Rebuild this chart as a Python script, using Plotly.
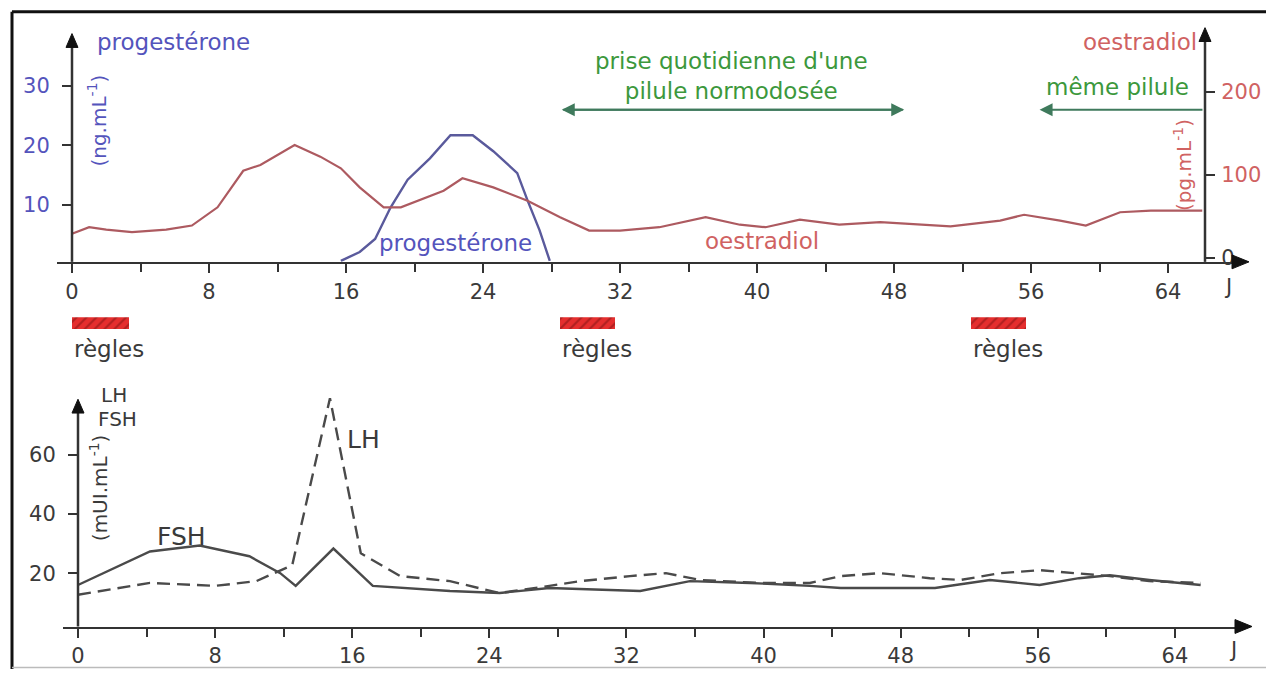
import plotly.graph_objects as go

W, H = 1266, 677

# ---------------- data ----------------
jours_oe = [0, 1, 2, 3.5, 5.5, 7, 8.5, 10, 11, 13, 14.5, 15.7, 16.8, 18.2, 19.2,
            21.7, 22.8, 24.6, 26.6, 28.5, 30.2, 32, 34.3, 37, 39, 40.5, 42.5,
            44.8, 47.2, 49.5, 51.3, 54.2, 55.6, 57.7, 59.2, 61.2, 63, 66]
oestradiol = [29, 37, 34, 31, 34, 39, 61, 105, 112, 136, 122, 108, 85, 61, 61,
              81, 96, 85, 69, 49, 33, 33, 37, 49, 40, 37, 46,
              40, 43, 40, 38, 45, 52, 45, 39, 55, 57, 57]

jours_pg = [15.7, 16.8, 17.7, 18.6, 19.6, 20.9, 22.1, 23.4, 24.6, 26.0, 26.6, 27.3, 27.9]
progesterone = [0.5, 2, 4.2, 9.5, 14.2, 17.8, 21.7, 21.7, 19, 15.3, 10.7, 5.7, 0.5]

jours_lh = [0, 4.2, 8, 10.4, 12.5, 14.7, 16.5, 18.8, 21.7, 24.6, 27.5, 29.3, 32.2,
            34.3, 36.3, 39.8, 42.7, 44.5, 46.8, 49.7, 51.5, 53.8, 56.1, 58.2,
            60.2, 62.5, 65.5]
lh = [12.7, 16.7, 15.7, 17.3, 22.7, 79, 26.7, 19, 17.3, 13.3, 15.7, 17.3, 19,
      20, 17.7, 16.7, 16.7, 19, 20, 18.3, 17.7, 20, 21, 20,
      19, 17.3, 16.7]

jours_fsh = [0, 4.2, 7.1, 10, 11.8, 12.7, 14.9, 17.2, 21.7, 24.6, 27.5, 30.5,
             32.8, 35.7, 39.2, 42.7, 44.5, 50, 53.2, 56.1, 58.4, 60.2, 62.5, 65.5]
fsh = [16, 27.3, 29.3, 25.7, 20, 15.7, 28.3, 15.7, 14, 13.3, 15, 14.3,
       14, 17.3, 16.7, 15.7, 15, 15, 17.7, 16, 18.3, 19.3, 17.7, 16]

regles_debut = [0, 28.5, 52.5]
regles_duree = [3.3, 3.2, 3.2]

pilule_debut = [28.6, 56.5]
pilule_fin = [48.6, 66.1]

jours_ticks = [0, 8, 16, 24, 32, 40, 48, 56, 64]
jours_minor = [4, 12, 20, 28, 36, 44, 52, 60]
prog_ticks = [10, 20, 30]
oe_ticks = [0, 100, 200]
gonado_ticks = [20, 40, 60]

# ---------------- styling ----------------
FONT = "DejaVu Sans"
AXC = "#333333"
BLUE_TXT = "#5454bc"
BLUE_LINE = "#5a5a9c"
RED_TXT = "#d06262"
RED_LINE = "#ad5a60"
GREEN_TXT = "#3c983c"
GREEN_ARR = "#3f7a5c"
GRAY_TXT = "#3a3a3a"


def px(x):
    return x / W


def py(y):
    return 1 - y / H


# top chart geometry (page pixels)
T_X0, T_PPD = 72, 17.125          # day 0 pixel, pixels per day
T_XL, T_XR = 57, 1236
T_YB, T_YT = 265, 30
P0, P_PPU = 267, 6.0              # progesterone zero pixel, px per ng/mL
E0, E_PPU = 261, 0.84             # oestradiol zero pixel, px per pg/mL
T_RIGHT = 1205

# bottom chart geometry
B_X0, B_PPD = 78, 17.14
B_XL, B_XR = 63, 1237
B_YB, B_YT = 634, 396
G0, G_PPU = 640, 3.0

fig = go.Figure()

fig.add_trace(go.Scatter(x=jours_oe, y=oestradiol, xaxis="x", yaxis="y2", mode="lines",
                         line=dict(color=RED_LINE, width=2.2), name="oestradiol",
                         showlegend=False))
fig.add_trace(go.Scatter(x=jours_pg, y=progesterone, xaxis="x", yaxis="y", mode="lines",
                         line=dict(color=BLUE_LINE, width=2.4), name="progestérone",
                         showlegend=False))
fig.add_trace(go.Scatter(x=jours_fsh, y=fsh, xaxis="x2", yaxis="y3", mode="lines",
                         line=dict(color="#4a4a4a", width=2.4), name="FSH",
                         showlegend=False))
fig.add_trace(go.Scatter(x=jours_lh, y=lh, xaxis="x2", yaxis="y3", mode="lines",
                         line=dict(color="#4a4a4a", width=2.4, dash="13px,7px"), name="LH",
                         showlegend=False))
fig.add_trace(go.Bar(y=[0] * len(regles_debut), x=regles_duree, base=regles_debut,
                     orientation="h", xaxis="x3", yaxis="y4", width=1,
                     marker=dict(color="#e52e2e", line=dict(width=0),
                                 pattern=dict(shape="/", fgcolor="#7a1212",
                                              bgcolor="#e52e2e", size=7, solidity=0.3)),
                     showlegend=False, name="règles"))

tickfont = dict(family=FONT, size=21, color=GRAY_TXT)
common_x = dict(showgrid=False, zeroline=False, showline=True, linecolor=AXC, linewidth=2.5,
                ticks="outside", ticklen=9, tickwidth=2, tickcolor=AXC,
                tickmode="array", tickvals=jours_ticks, tickfont=tickfont,
                minor=dict(tickmode="array", tickvals=jours_minor, ticks="outside",
                           ticklen=8, tickwidth=2, tickcolor=AXC))

fig.update_layout(
    width=W, height=H, autosize=False,
    margin=dict(l=0, r=0, t=0, b=0),
    paper_bgcolor="white", plot_bgcolor="rgba(0,0,0,0)",
    font=dict(family=FONT, size=21, color=GRAY_TXT),
    hovermode=False,
    xaxis=dict(domain=[px(T_XL), px(T_XR)],
               range=[(T_XL - T_X0) / T_PPD, (T_XR - T_X0) / T_PPD],
               anchor="y", **common_x),
    yaxis=dict(domain=[py(T_YB), py(T_YT)],
               range=[(P0 - T_YB) / P_PPU, (P0 - T_YT) / P_PPU],
               anchor="free", position=px(T_X0), showline=False, showgrid=False,
               zeroline=False, ticks="outside", ticklen=10, tickwidth=2, tickcolor=AXC,
               ticklabelstandoff=8,
               tickmode="array", tickvals=prog_ticks,
               tickfont=dict(family=FONT, size=21, color=BLUE_TXT)),
    yaxis2=dict(domain=[py(T_YB), py(T_YT)], overlaying="y", side="right",
                range=[(E0 - T_YB) / E_PPU, (E0 - T_YT) / E_PPU],
                anchor="free", position=px(T_RIGHT), showline=False, showgrid=False,
                zeroline=False, ticks="outside", ticklen=9, tickwidth=2, tickcolor=AXC,
                ticklabelstandoff=2,
                tickmode="array", tickvals=oe_ticks,
                ticktext=[str(oe_ticks[0])] +
                         ['<span style="color:%s">%d</span>' % (RED_TXT, v) for v in oe_ticks[1:]],
                tickfont=dict(family=FONT, size=21, color=GRAY_TXT)),
    xaxis2=dict(domain=[px(B_XL), px(B_XR)],
                range=[(B_XL - B_X0) / B_PPD, (B_XR - B_X0) / B_PPD],
                anchor="y3", **common_x),
    yaxis3=dict(domain=[py(B_YB), py(B_YT)],
                range=[(G0 - B_YB) / G_PPU, (G0 - B_YT) / G_PPU],
                anchor="free", position=px(B_X0), showline=False, showgrid=False,
                zeroline=False, ticks="outside", ticklen=10, tickwidth=2, tickcolor=AXC,
                ticklabelstandoff=8,
                tickmode="array", tickvals=gonado_ticks, tickfont=tickfont),
    xaxis3=dict(domain=[px(T_XL), px(T_XR)],
                range=[(T_XL - T_X0) / T_PPD, (T_XR - T_X0) / T_PPD],
                anchor="y4", visible=False),
    yaxis4=dict(domain=[py(333), py(321)], range=[-0.5, 0.5], anchor="x3", visible=False),
    bargap=0,
)

shapes = []


def seg(x0, y0, x1, y1, color=AXC, width=2.5):
    shapes.append(dict(type="line", xref="paper", yref="paper",
                       x0=px(x0), y0=py(y0), x1=px(x1), y1=py(y1),
                       line=dict(color=color, width=width)))


def tri(points, color="#111111"):
    path = "M " + " L ".join("%f,%f" % (px(a), py(b)) for a, b in points) + " Z"
    shapes.append(dict(type="path", xref="paper", yref="paper", path=path,
                       fillcolor=color, line=dict(color=color, width=1)))


# frame
seg(12, 12, 12, 677, "#111111", 3)
seg(12, 12, 1266, 12, "#111111", 3)
seg(12, 675.5, 1266, 675.5, "#bbbbbb", 1.5)

# top axes lines + arrows
seg(T_X0, T_YB, T_X0, 47)
tri([(66, 48), (78, 48), (72, 34)])
seg(T_RIGHT, T_YB, T_RIGHT, 41)
tri([(1199, 42), (1211, 42), (1205, 28)])
tri([(1232, 258), (1232, 272), (1249, 265)])

# bottom axes lines + arrows
seg(B_X0, B_YB, B_X0, 417)
tri([(72, 418), (84, 418), (78, 404)])
tri([(1235, 627), (1235, 641), (1252, 634)])

fig.update_layout(shapes=shapes)

ann = []


def text(x, y, s, color=GRAY_TXT, size=21, xanchor="center", angle=0, xref="paper"):
    ann.append(dict(x=x if xref != "paper" else px(x), y=py(y), xref=xref, yref="paper",
                    text=s, showarrow=False, xanchor=xanchor, yanchor="middle",
                    textangle=angle, font=dict(family=FONT, size=size, color=color)))


# top chart labels
text(95, 42, "progestérone", BLUE_TXT, 23, "left")
text(1199, 42, "oestradiol", RED_TXT, 23, "right")
text(97, 122, "(ng.mL<sup>-1</sup>)", BLUE_TXT, 20, angle=-90)
text(1183, 167, "(pg.mL<sup>-1</sup>)", RED_TXT, 20, angle=-90)
text(22.4, 246, "progestérone", BLUE_TXT, 23, xref="x")
text(40.3, 244, "oestradiol", RED_TXT, 23, xref="x")
text(1228, 290, "J", GRAY_TXT, 21)
text(38.5, 77, "prise quotidienne d'une<br>pilule normodosée", GREEN_TXT, 23, xref="x")
text(1117, 88, "même pilule", GREEN_TXT, 23)

# règles
for d in regles_debut:
    text(d, 353, "règles", GRAY_TXT, 23, "left", xref="x")

# bottom chart labels
text(99, 400, "LH", GRAY_TXT, 20, "left")
text(96, 424, "FSH", GRAY_TXT, 20, "left")
text(345, 445, "LH", GRAY_TXT, 25, "left")
text(155, 543, "FSH", GRAY_TXT, 25, "left")
text(99, 494, "(mUI.mL<sup>-1</sup>)", GRAY_TXT, 20, angle=-90)
text(1233, 658, "J", GRAY_TXT, 21)

# pill arrows
for i, (a, b) in enumerate(zip(pilule_debut, pilule_fin)):
    yy = py(111)
    ann.append(dict(x=a, y=yy, ax=b, ay=0, xref="x", yref="paper", axref="x", ayref="pixel",
                    showarrow=True, arrowhead=2, arrowsize=1.3, arrowwidth=2,
                    arrowcolor=GREEN_ARR, text=""))
    if i == 0:
        ann.append(dict(x=b, y=yy, ax=a, ay=0, xref="x", yref="paper", axref="x",
                        ayref="pixel", showarrow=True, arrowhead=2, arrowsize=1.3,
                        arrowwidth=2, arrowcolor=GREEN_ARR, text=""))

fig.update_layout(annotations=ann)

fig.write_html("out.html",
               config={"displayModeBar": False, "staticPlot": True},
               post_script="document.body.style.margin='0';"
                           "document.body.style.overflow='hidden';")
